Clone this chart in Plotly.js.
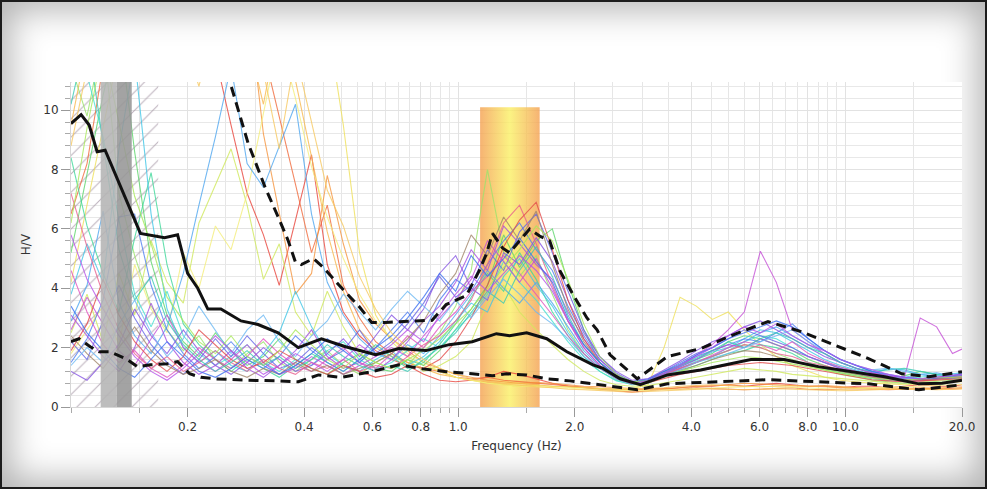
<!DOCTYPE html>
<html>
<head>
<meta charset="utf-8">
<script src="https://cdn.plot.ly/plotly-3.0.1.min.js"></script>
<style>
html,body{margin:0;padding:0;background:#fff;}
#wrap{position:relative;width:987px;height:489px;box-sizing:border-box;border:2px solid #1c1c1c;background:#fff;
  box-shadow: inset 0 0 34px 8px rgba(0,0,0,0.30);overflow:hidden;}
#chart{position:absolute;left:-2px;top:-2px;width:987px;height:489px;}
</style>
</head>
<body>
<div id="wrap"><div id="chart"></div></div>
<script>
// Frequency grid of the individual windows (Hz)
const freq = [0.100,0.110,0.121,0.133,0.146,0.161,0.177,0.195,0.214,0.236,
  0.259,0.285,0.314,0.345,0.380,0.418,0.459,0.505,0.556,0.612,
  0.673,0.740,0.814,0.895,0.985,1.08,1.19,1.31,1.44,1.59,
  1.75,1.92,2.11,2.32,2.56,2.81,3.09,3.40,3.74,4.12,
  4.53,4.98,5.48,6.03,6.63,7.29,8.02,8.83,9.71,10.7,
  11.7,12.9,14.2,15.6,17.2,18.9,20.0];

// H/V curves of the individual windows
const w01 = [13,15,12,14,17,13,11.5,14,12.5,11.8, 9.5,7.2,5.8,4.1,6.3,8.5,4.8,3.2,2.4,1.9, 1.6,1.4,1.1,0.9,0.85,0.9,1.0,1.2,1.1,0.95, 0.8,0.7,0.65,0.6,0.55,0.5,0.55,0.6,0.65,0.7, 0.7,0.75,0.7,0.75,0.8,0.75,0.7,0.7,0.65,0.7, 0.7,0.65,0.7,0.75,0.7,0.7,0.75];
const w02 = [6.5,8.2,11.5,14,12,15,13,17,14,16, 13,15,12,9.8,7.5,5.2,6.8,4.1,3.0,2.2, 1.8,1.5,1.3,1.2,1.0,0.95,1.0,0.9,0.85,0.8, 0.75,0.7,0.65,0.62,0.6,0.58,0.6,0.62,0.6,0.65, 0.62,0.6,0.58,0.6,0.62,0.65,0.6,0.58,0.6,0.62, 0.6,0.58,0.6,0.62,0.6,0.62,0.65];
const w03 = [12,14,16,13,15,17,14,12,15,13, 11.5,14,9.2,6.5,3.8,4.5,7.8,5.5,3.6,2.8, 2.3,1.9,1.5,1.3,1.1,1.0,0.9,0.85,0.8,0.82, 0.8,0.75,0.7,0.68,0.65,0.62,0.6,0.62,0.65,0.7, 0.72,0.75,0.8,0.78,0.75,0.72,0.7,0.72,0.68,0.65, 0.62,0.6,0.62,0.65,0.62,0.6,0.62];
const w04 = [9.5,12.5,15,11,13.5,16,12,14,11.5,13, 15,12.5,10.2,13,11,8.4,5.9,3.9,2.6,2.0, 1.7,1.5,1.3,1.1,1.0,0.9,0.85,0.8,0.8,0.75, 0.7,0.68,0.65,0.62,0.6,0.6,0.62,0.65,0.7,0.72, 0.75,0.72,0.7,0.68,0.7,0.72,0.7,0.68,0.66,0.64, 0.65,0.62,0.6,0.62,0.64,0.66,0.68];
const w05 = [4.2,6.8,9.5,12,14,11,13,15,12,14, 16,13,15,12,14,11.5,13,9.5,5.2,3.1, 2.2,1.7,1.4,1.2,1.0,0.9,0.8,0.75,0.7,0.72, 0.7,0.68,0.65,0.62,0.6,0.62,0.75,2.0,3.7,3.4, 2.95,3.2,2.6,2.1,1.7,1.4,1.2,1.0,0.9,0.85, 0.8,0.78,0.75,0.78,0.8,0.82,0.85];
const w06 = [2.5,3.8,2.2,4.5,3.1,5.6,4.2,3.5,6.2,7.5, 8.7,6.8,4.3,5.5,3.2,2.4,3.9,2.7,1.8,1.5, 1.3,1.6,1.2,1.4,1.7,2.2,3.5,4.1,3.2,2.6, 2.1,1.6,1.2,0.9,0.75,0.7,0.72,0.8,0.9,1.0, 1.1,1.2,1.3,1.25,1.2,1.1,1.05,1.0,0.95,0.9, 0.85,0.82,0.8,0.85,0.9,0.95,0.98];
const w07 = [1.8,2.6,3.4,2.1,4.8,3.3,2.5,5.2,4.0,6.1, 5.3,7.2,9.8,12.5,10.4,8.1,6.4,5.0,3.8,2.9, 2.3,1.8,1.5,1.2,1.0,0.9,0.8,0.75,0.7,0.68, 0.65,0.62,0.6,0.58,0.56,0.55,0.56,0.58,0.6,0.62, 0.64,0.66,0.68,0.7,0.68,0.66,0.64,0.62,0.6,0.62, 0.64,0.66,0.68,0.7,0.72,0.74,0.76];
const w08 = [11.5,9.8,12.5,7.2,5.1,3.4,2.6,1.9,2.4,1.6, 1.3,1.8,2.2,1.5,1.2,1.6,1.9,1.4,1.1,1.5, 1.8,1.4,2.0,2.5,3.4,4.6,8.0,5.2,4.4,5.1, 3.8,2.6,1.8,1.3,0.95,0.8,0.85,1.1,1.3,1.5, 1.7,1.9,2.1,2.0,1.8,1.6,1.4,1.25,1.1,1.0, 0.9,0.85,0.8,0.82,0.85,0.9,0.95];
const w09 = [5.2,7.8,10.5,12.8,8.6,4.9,3.1,2.2,1.7,2.5, 1.9,1.4,1.7,2.3,1.6,1.3,1.1,1.5,1.8,1.3, 1.2,1.6,1.4,1.9,2.6,3.3,4.1,5.8,4.7,5.6, 6.0,4.2,2.6,1.5,1.0,0.82,0.9,1.2,1.4,1.6, 1.8,2.2,2.4,2.3,2.1,1.9,1.6,1.4,1.2,1.1, 1.0,0.95,1.05,1.2,1.1,1.0,1.05];
const w10 = [8.4,6.1,4.5,3.2,5.7,7.9,4.8,2.8,2.1,1.6, 1.2,1.6,1.3,1.0,1.4,1.8,1.5,1.2,1.6,2.1, 1.7,1.3,1.5,2.1,2.8,3.7,4.5,3.9,5.2,4.3, 3.2,2.4,1.7,1.2,0.9,0.75,0.8,1.0,1.2,1.4, 1.6,1.8,1.9,2.1,2.0,1.8,1.5,1.3,1.15,1.05, 0.95,0.9,0.88,0.92,0.95,1.0,1.05];
const w11 = [13.5,11.2,9.1,6.3,3.8,2.7,3.9,2.4,1.8,1.4, 1.7,2.1,1.5,1.2,1.6,1.4,1.9,2.2,1.6,1.3, 1.5,1.9,2.3,2.0,2.6,3.1,3.8,4.9,4.2,3.6, 2.9,2.2,1.6,1.2,0.88,0.78,0.85,1.05,1.3,1.55, 1.7,1.9,2.2,2.4,2.3,2.0,1.7,1.5,1.35,1.2, 1.1,1.0,0.95,1.0,1.05,1.1,1.15];
const w12 = [3.8,5.5,4.2,8.7,11.8,6.5,3.3,2.0,1.5,1.9, 1.4,1.2,1.8,2.5,3.9,2.7,1.8,1.4,1.2,1.6, 1.9,1.4,1.7,2.2,2.9,3.5,3.2,4.4,5.0,4.1, 3.4,2.5,1.8,1.3,1.0,0.8,0.88,1.15,1.35,1.6, 1.85,2.0,2.3,2.6,2.5,2.2,1.9,1.6,1.4,1.25, 1.1,1.3,1.25,1.1,1.0,0.95,1.0];
const w13 = [2.9,4.1,6.6,3.5,2.4,1.8,2.7,4.5,6.8,9.1, 11.5,8.2,7.4,8.8,10.2,6.5,4.2,3.1,2.3,1.8, 1.6,2.1,1.8,2.4,3.1,3.8,4.6,4.0,3.5,4.2, 3.5,2.7,1.9,1.35,0.95,0.78,0.85,1.1,1.3,1.5, 1.7,2.0,2.2,2.5,2.7,2.4,2.1,1.8,1.5,1.3, 1.15,1.05,1.0,1.1,1.15,1.05,1.0];
const w14 = [1.5,2.3,3.6,6.4,6.5,4.1,2.6,1.8,1.3,1.7, 2.2,1.6,1.3,1.7,2.4,1.9,1.5,1.2,1.6,2.0, 2.6,3.2,2.5,3.6,4.3,3.9,4.8,5.6,6.2,5.3, 4.6,3.4,2.4,1.6,1.1,0.85,0.9,1.15,1.4,1.7, 1.9,2.1,2.3,2.2,2.5,2.8,2.3,1.9,1.6,1.4, 1.2,1.05,1.0,0.95,1.0,1.05,1.1];
const w15 = [2.2,1.6,2.9,4.1,3.0,2.1,1.5,1.1,1.6,2.3, 1.7,2.4,1.8,1.3,1.5,2.0,1.6,1.9,2.6,1.8, 2.2,2.8,3.5,4.4,3.7,4.1,5.3,4.6,5.9,6.5, 5.2,3.9,2.6,1.7,1.15,0.85,0.95,1.2,1.5,1.8, 2.0,2.3,2.6,2.4,2.2,2.0,1.7,1.5,1.3,1.2, 1.05,0.95,0.9,0.92,0.95,1.0,1.08];
const w16 = [1.2,0.9,1.5,2.1,3.3,2.4,1.8,2.6,1.9,1.4, 1.1,1.5,2.0,1.6,1.2,1.4,1.8,2.3,1.7,2.4, 3.1,2.6,3.3,4.5,5.1,4.0,3.6,5.2,4.8,5.7, 4.9,3.6,2.5,1.7,1.2,0.9,0.95,1.25,1.55,1.9, 2.2,2.4,2.7,2.9,2.6,2.3,2.0,1.7,1.5,1.3, 1.15,1.0,0.95,0.9,0.95,1.0,1.05];
const w17 = [3.1,2.4,1.7,1.2,2.0,3.5,2.2,1.5,1.1,1.4, 1.9,1.3,1.0,1.4,1.9,2.6,1.7,1.3,1.5,1.2, 1.6,2.2,2.9,3.4,4.2,5.3,4.6,6.1,5.5,4.8, 4.3,3.2,2.3,1.6,1.1,0.8,0.9,1.1,1.35,1.6, 1.9,2.1,2.0,2.3,2.1,1.9,1.7,1.5,1.3,1.15, 1.0,0.9,0.85,0.88,0.92,0.98,1.02];
const w18 = [2.6,3.7,2.8,1.9,1.4,2.3,3.1,2.0,1.5,1.2, 1.6,2.1,1.5,1.1,1.3,1.7,1.4,1.1,1.4,1.7, 2.0,1.7,2.4,3.0,3.6,4.3,5.6,4.9,4.2,5.0, 4.0,2.9,2.1,1.5,1.05,0.82,0.9,1.15,1.4,1.75, 2.1,2.6,3.2,5.25,4.2,2.6,2.2,1.8,1.5,1.3, 1.15,1.05,1.0,3.0,2.7,1.8,1.95];
const w19 = [4.6,3.2,2.1,1.5,1.9,1.3,1.0,1.4,2.0,1.6, 1.3,1.7,2.3,1.8,1.4,1.2,1.6,2.0,1.5,1.3, 1.8,2.4,2.0,2.7,3.2,3.9,4.4,5.1,4.5,3.8, 3.1,2.4,1.8,1.3,0.95,0.78,0.85,1.05,1.3,1.5, 1.75,2.0,2.2,2.1,1.9,2.2,1.8,1.55,1.35,1.2, 1.05,0.95,0.9,0.95,1.0,1.05,1.1];
const w20 = [7.2,5.4,3.8,2.6,1.8,1.3,1.7,1.2,1.5,1.9, 1.5,1.2,1.6,1.3,1.1,1.5,1.3,1.6,1.2,1.4, 1.3,1.7,2.1,2.4,2.9,3.6,4.8,6.2,6.8,5.5, 4.1,2.9,2.0,1.4,1.0,0.8,0.85,1.1,1.3,1.5, 1.7,1.9,2.1,2.0,1.8,1.7,1.5,1.4,1.25,1.15, 1.05,0.95,0.9,0.9,0.95,1.0,1.02];
const w21 = [1.9,2.8,4.3,3.1,2.2,1.6,1.2,1.7,2.6,2.1, 1.6,1.3,1.5,1.9,1.6,1.3,1.1,1.4,1.2,1.0, 1.1,1.4,1.3,1.6,2.2,3.0,4.1,5.4,6.3,6.9, 5.3,3.6,2.3,1.5,1.0,0.8,0.82,0.95,1.1,1.2, 1.3,1.4,1.45,1.5,1.45,1.4,1.3,1.2,1.1,1.0, 0.92,0.88,0.85,0.88,0.9,0.92,0.95];
const w22 = [2.4,1.8,1.3,2.0,2.7,1.9,1.4,1.1,1.3,1.6, 1.2,1.0,1.3,1.1,1.5,1.2,1.4,1.1,1.3,1.5, 1.8,2.3,2.9,3.8,4.5,5.8,5.1,6.4,5.6,6.6, 4.8,3.3,2.2,1.5,1.0,0.8,0.85,1.05,1.25,1.4, 1.6,1.75,1.9,1.85,1.7,1.55,1.4,1.3,1.2,1.1, 1.0,0.95,0.9,0.92,0.95,0.98,1.0];
const w23 = [10.2,12.6,8.9,5.3,3.6,4.4,2.9,2.1,1.6,1.2, 1.5,1.9,1.4,1.7,1.3,1.6,2.1,1.7,1.4,1.2, 1.4,1.2,1.6,2.0,2.5,3.2,3.9,3.5,4.6,5.4, 4.4,3.1,2.1,1.5,1.05,0.85,0.9,1.1,1.4,1.65, 1.9,2.2,2.0,2.3,2.5,2.3,2.0,1.8,1.5,1.3, 1.2,1.25,1.3,1.2,1.1,1.05,1.1];
const w24 = [1.4,2.0,1.5,2.8,3.6,2.5,1.7,2.3,3.4,2.6, 1.8,2.6,3.1,2.2,1.7,2.4,2.9,3.8,3.2,2.6, 3.3,3.9,3.4,2.9,3.6,3.0,3.7,4.3,3.8,3.2, 2.8,2.3,1.7,1.3,0.95,0.8,0.85,1.05,1.25,1.5, 1.65,1.8,2.0,2.2,2.4,2.6,2.2,1.9,1.6,1.4, 1.25,1.3,1.2,1.1,1.05,1.1,1.15];
const w25 = [3.4,2.5,1.9,1.3,1.0,1.6,2.2,1.7,1.2,1.0, 1.3,1.7,1.4,1.1,1.4,1.8,2.3,1.9,1.5,2.0, 2.4,3.0,3.7,4.5,3.9,5.1,4.4,5.0,5.7,4.9, 4.2,3.0,2.1,1.5,1.05,0.85,0.92,1.2,1.45,1.75, 2.0,2.3,2.5,2.7,2.9,2.7,2.3,1.9,1.6,1.4, 1.2,1.1,1.0,0.95,0.98,1.05,1.12];
const w26 = [6.2,9.4,12.1,9.6,7.1,5.5,3.7,2.9,2.2,1.8, 2.4,1.7,1.4,1.9,2.6,2.1,1.6,1.3,1.8,1.5, 1.3,1.6,1.9,2.3,2.8,3.3,4.0,4.7,5.3,6.1, 5.6,4.3,2.8,1.7,1.1,0.85,0.88,1.05,1.2,1.35, 1.5,1.6,1.7,1.65,1.55,1.45,1.35,1.25,1.15,1.05, 0.98,0.92,0.9,0.95,1.0,1.0,1.02];
const w27 = [5.8,4.3,3.3,2.4,1.7,1.2,0.9,1.3,1.8,2.4, 1.9,1.5,1.1,1.4,1.8,1.5,1.2,1.6,2.1,1.7, 2.1,2.6,2.2,3.1,3.8,4.4,3.9,4.5,5.1,4.6, 3.9,2.9,2.0,1.4,1.0,0.8,0.88,1.1,1.4,1.7, 2.0,2.4,2.7,2.5,2.8,2.4,2.1,1.9,1.6,1.4, 1.25,1.1,1.0,0.95,1.0,1.05,1.1];
const w28 = [8.8,11.6,14,12,15,13.5,16,12.5,10.8,13.2, 12.2,14.5,11.3,8.7,11.9,9.6,7.3,6.1,4.4,3.3, 2.5,2.0,1.6,1.3,1.1,0.95,0.85,0.78,0.72,0.68, 0.65,0.6,0.58,0.55,0.52,0.5,0.52,0.55,0.58,0.6, 0.62,0.6,0.58,0.6,0.62,0.6,0.58,0.56,0.55,0.56, 0.58,0.6,0.62,0.6,0.58,0.6,0.62];
const windows = [w01,w02,w03,w04,w05,w06,w07,w08,w09,w10,w11,w12,w13,w14,
  w15,w16,w17,w18,w19,w20,w21,w22,w23,w24,w25,w26,w27,w28];
const windowColors = ['#e8453c','#f06a3c','#f5953f','#f7b84e','#efe05a','#cfe85c','#f4ee7a',
  '#9be36a','#5cd46a','#3fd89a','#45e0d2','#40c6e6','#4fa6ef','#4f7ef0','#6464e6','#8453e2',
  '#a24fe0','#c44fd6','#e052bf','#e8608e','#e24a4a','#a0866a','#39c9b4','#6cb8f2','#3c6ff0',
  '#a8e85a','#b650e8','#f6c860'];

// Average H/V curve
const meanFreq = [0.100,0.1062,0.1114,0.1168,0.1225,0.1511,0.1744,0.1885,0.2001,0.2125,
  0.2256,0.2438,0.2748,0.3042,0.3428,0.3864,0.4434,0.5118,0.6124,0.7029,
  0.8257,0.9476,1.087,1.255,1.357,1.502,1.693,1.908,2.229,2.366,
  2.619,2.953,3.470,4.227,5.700,6.943,8.510,10.37,12.63,15.47,17.76,20.0];
const meanHV = [9.55,9.85,9.5,8.6,8.65,5.85,5.7,5.8,4.5,4.0,
  3.3,3.3,2.9,2.78,2.5,2.0,2.3,2.03,1.76,1.97,
  1.9,2.1,2.2,2.47,2.4,2.5,2.3,1.86,1.42,1.3,
  0.95,0.75,1.08,1.25,1.6,1.6,1.36,1.19,1.02,0.78,0.8,0.9];
// Average + standard deviation
const upperFreq = [0.2352,0.2573,0.2865,0.3172,0.3428,0.3639,0.3795,0.3934,0.4227,0.4487,
  0.4967,0.5534,0.5978,0.6501,0.7780,0.8560,0.9307,1.049,1.134,1.182,
  1.226,1.301,1.357,1.440,1.529,1.623,1.723,1.829,1.977,2.150,
  2.283,2.467,2.900,3.470,4.227,5.149,6.310,7.685,9.363,11.47,13.98,16.43,20.0];
const upperHV = [12.3,10.95,8.9,7.4,6.4,5.6,4.9,4.8,5.0,4.7,
  4.05,3.4,2.85,2.85,2.9,2.92,3.45,3.75,4.6,5.15,
  5.85,5.36,5.2,5.6,6.0,5.76,5.6,4.6,3.8,3.0,
  2.6,1.76,0.95,1.7,1.97,2.44,2.88,2.54,2.1,1.63,1.12,1.02,1.19];
// Average - standard deviation
const lowerFreq = [0.100,0.1049,0.1121,0.1182,0.1263,0.1398,0.1484,0.1604,0.1776,0.1885,
  0.2025,0.2163,0.2352,0.2865,0.3428,0.3864,0.4355,0.4996,0.5978,0.7029,
  0.8064,0.9307,1.087,1.226,1.332,1.502,1.693,1.942,2.229,2.900,
  3.470,4.679,6.310,8.510,11.47,15.47,20.0];
const lowerHV = [2.2,2.3,2.03,1.86,1.86,1.6,1.36,1.42,1.46,1.53,
  1.12,1.0,0.95,0.9,0.88,0.85,1.08,1.0,1.19,1.42,
  1.29,1.19,1.12,1.05,1.12,1.08,0.95,0.88,0.78,0.58,
  0.78,0.85,0.92,0.85,0.78,0.58,0.75];

// Highlighted frequency ranges
const hatchRange = [0.100, 0.168];
const grayLight = [0.1193, 0.1312];
const grayDark = [0.1312, 0.1435];
const peakRange = [1.139, 1.623];
const peakTop = 10.1;
const yTop = 11;

const xTickVals = [0.2,0.4,0.6,0.8,1,2,4,6,8,10,20];
const xTickText = ['0.2','0.4','0.6','0.8','1.0','2.0','4.0','6.0','8.0','10.0','20.0'];
const xMinorVals = [0.1,0.15,0.25,0.3,0.35,0.45,0.5,0.55,0.65,0.7,0.75,0.85,0.9,0.95,
  1.5,2.5,3,3.5,4.5,5,5.5,6.5,7,7.5,8.5,9,9.5,15];

const traces = [];
function box(x0, x1, y0, y1){ return {x:[x0,x1,x1,x0,x0], y:[y0,y0,y1,y1,y0]}; }

const hb = box(hatchRange[0], hatchRange[1], 0, yTop);
traces.push({type:'scatter', mode:'lines', x:hb.x, y:hb.y, fill:'toself',
  fillcolor:'rgba(0,0,0,0)', line:{width:0},
  fillpattern:{shape:'/', fgcolor:'rgba(165,150,165,0.75)', bgcolor:'rgba(0,0,0,0)', size:13, solidity:0.08},
  hoverinfo:'skip'});

const pb = box(peakRange[0], peakRange[1], 0, peakTop);
traces.push({type:'scatter', mode:'lines', x:pb.x, y:pb.y, fill:'toself', line:{width:0},
  fillcolor:'rgba(248,200,90,0.8)',
  fillgradient:{type:'horizontal', colorscale:[[0,'rgba(244,160,80,0.8)'],[0.5,'rgba(250,240,100,0.8)'],[1,'rgba(244,160,80,0.8)']]},
  hoverinfo:'skip'});

windows.forEach((w, k) => {
  traces.push({type:'scatter', mode:'lines', x:freq, y:w,
    line:{color:windowColors[k], width:1.1}, opacity:0.8, hoverinfo:'skip'});
});

const gl = box(grayLight[0], grayLight[1], 0, yTop);
traces.push({type:'scatter', mode:'lines', x:gl.x, y:gl.y, fill:'toself', line:{width:0},
  fillcolor:'rgba(180,180,180,0.88)', hoverinfo:'skip'});
const gd = box(grayDark[0], grayDark[1], 0, yTop);
traces.push({type:'scatter', mode:'lines', x:gd.x, y:gd.y, fill:'toself', line:{width:0},
  fillcolor:'rgba(150,150,150,0.88)', hoverinfo:'skip'});

traces.push({type:'scatter', mode:'lines', x:lowerFreq, y:lowerHV,
  line:{color:'#111', width:3, dash:'10px,6px'}, hoverinfo:'skip'});
traces.push({type:'scatter', mode:'lines', x:upperFreq, y:upperHV,
  line:{color:'#111', width:3, dash:'10px,6px'}, hoverinfo:'skip'});
traces.push({type:'scatter', mode:'lines', x:meanFreq, y:meanHV,
  line:{color:'#111', width:3}, hoverinfo:'skip'});

const font = {family:'DejaVu Sans, Verdana, sans-serif', size:12, color:'#333'};
const layout = {
  width:987, height:489,
  margin:{l:71, r:25, t:82, b:82},
  paper_bgcolor:'rgba(0,0,0,0)', plot_bgcolor:'#ffffff',
  showlegend:false, hovermode:false, font:font,
  xaxis:{type:'log', range:[-1, 1.30103], tickvals:xTickVals, ticktext:xTickText,
    ticks:'outside', ticklen:9, tickcolor:'#999', showgrid:true, gridcolor:'#e2e2e2',
    showline:true, linecolor:'#d6d6d6', zeroline:false, tickfont:font,
    minor:{tickvals:xMinorVals, ticks:'outside', ticklen:5, tickcolor:'#aaa', showgrid:true, gridcolor:'#e6e6e6'},
    title:{text:'Frequency (Hz)', font:font, standoff:8}},
  yaxis:{range:[0, 10.95], tickvals:[0,2,4,6,8,10], ticks:'outside', ticklen:9, tickcolor:'#999',
    showgrid:true, gridcolor:'#e2e2e2', showline:true, linecolor:'#d6d6d6', zeroline:false, tickfont:font,
    minor:{dtick:0.4, tick0:0, ticks:'outside', ticklen:5, tickcolor:'#aaa', showgrid:true, gridcolor:'#e8e8e8'},
    title:{text:'H/V', font:font, standoff:10}}
};
Plotly.newPlot('chart', traces, layout, {displayModeBar:false, staticPlot:true});
</script>
</body>
</html>
